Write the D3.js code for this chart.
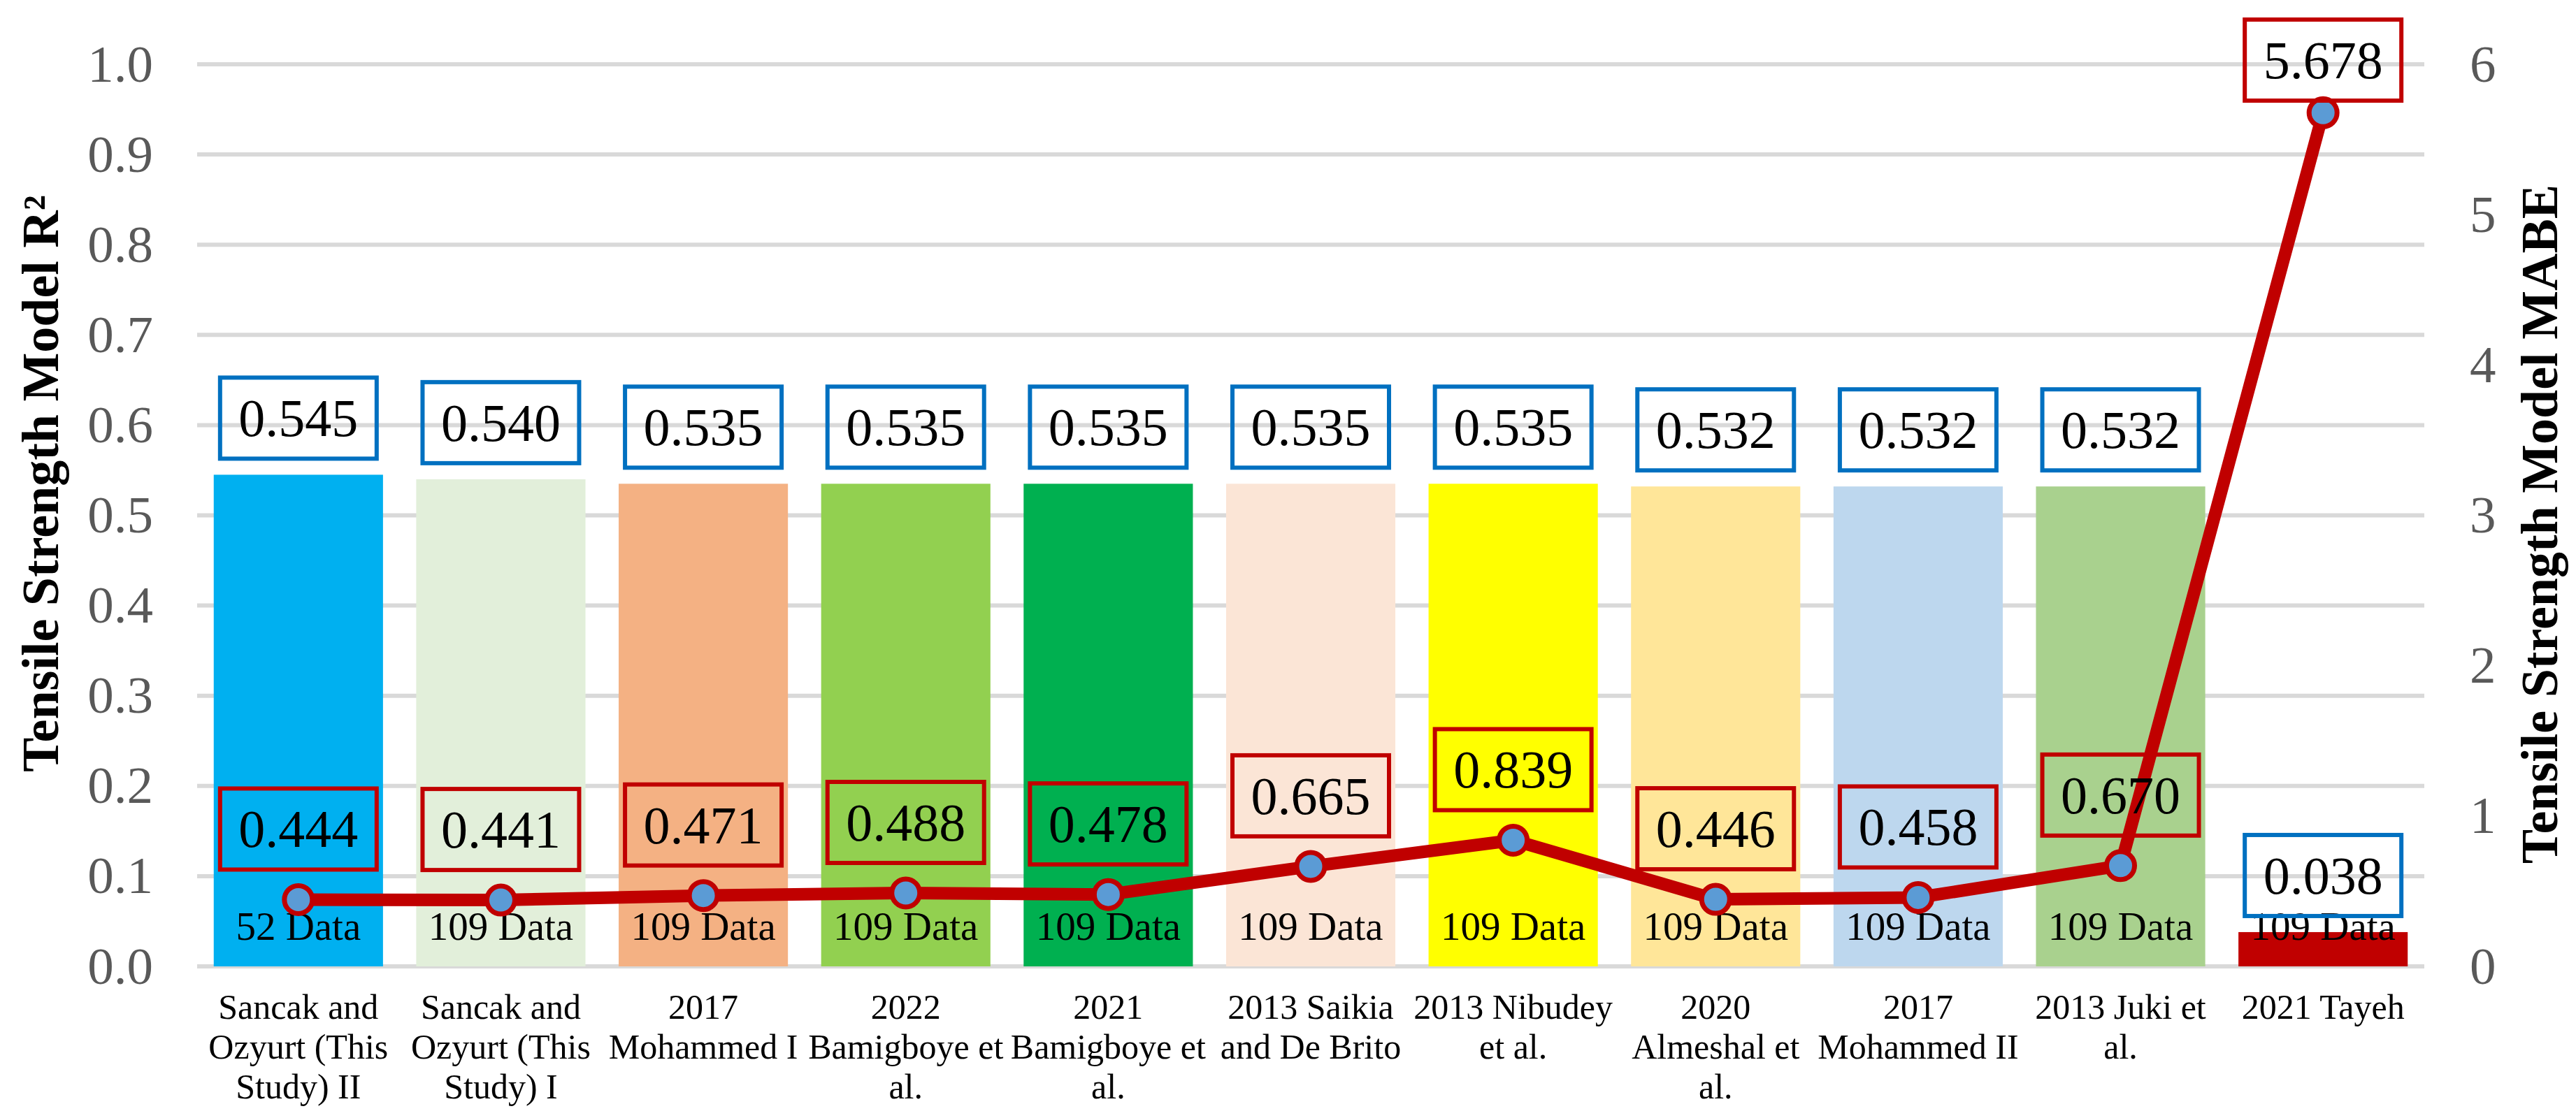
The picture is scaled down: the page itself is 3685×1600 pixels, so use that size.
<!DOCTYPE html>
<html>
<head>
<meta charset="utf-8">
<script src="https://cdn.jsdelivr.net/npm/d3@7/dist/d3.min.js"></script>
<style>
  body { margin: 0; background: #fff; }
  svg { display: block; }
  text { font-family: "Times New Roman", "Liberation Serif", serif; }
</style>
</head>
<body>
<script>
// category labels (line breaks as in the original figure)
var categories = [
  "Sancak and\nOzyurt (This\nStudy) II",
  "Sancak and\nOzyurt (This\nStudy) I",
  "2017\nMohammed I",
  "2022\nBamigboye et\nal.",
  "2021\nBamigboye et\nal.",
  "2013 Saikia\nand De Brito",
  "2013 Nibudey\net al.",
  "2020\nAlmeshal et\nal.",
  "2017\nMohammed II",
  "2013 Juki et\nal.",
  "2021 Tayeh"
];
var r2Values = [0.545, 0.540, 0.535, 0.535, 0.535, 0.535, 0.535, 0.532, 0.532, 0.532, 0.038];
var mabeValues = [0.444, 0.441, 0.471, 0.488, 0.478, 0.665, 0.839, 0.446, 0.458, 0.670, 5.678];
var dataCounts = [52, 109, 109, 109, 109, 109, 109, 109, 109, 109, 109];
var barColors = ["#00b0f0", "#e2efda", "#f4b183", "#92d050", "#00b050", "#fbe5d6",
                 "#ffff00", "#ffe699", "#bdd7ee", "#a9d18e", "#c00000"];
var leftTicks = [0, 0.1, 0.2, 0.3, 0.4, 0.5, 0.6, 0.7, 0.8, 0.9, 1.0];
var rightTicks = [0, 1, 2, 3, 4, 5, 6];

var width = 3685, height = 1600;
var plotLeft = 282, plotRight = 3468, plotTop = 92, plotBottom = 1383;
var boxW = 224, boxH = 116;

var svg = d3.select("body").append("svg")
    .attr("width", width)
    .attr("height", height);

var x = d3.scaleBand()
    .domain(d3.range(categories.length))
    .range([plotLeft, plotRight])
    .paddingInner(0.164)
    .paddingOuter(0.082);

var yL = d3.scaleLinear().domain([0, 1]).range([plotBottom, plotTop]);
var yR = d3.scaleLinear().domain([0, 6]).range([plotBottom, plotTop]);

function cx(i) { return x(i) + x.bandwidth() / 2; }

// gridlines
svg.append("g").selectAll("line")
    .data(leftTicks)
    .enter().append("line")
    .attr("x1", plotLeft).attr("x2", plotRight)
    .attr("y1", function(d) { return yL(d); })
    .attr("y2", function(d) { return yL(d); })
    .attr("stroke", "#d9d9d9")
    .attr("stroke-width", 6);

// bars
svg.append("g").selectAll("rect")
    .data(r2Values)
    .enter().append("rect")
    .attr("x", function(d, i) { return x(i); })
    .attr("width", x.bandwidth())
    .attr("y", function(d) { return yL(d); })
    .attr("height", function(d) { return plotBottom - yL(d); })
    .attr("fill", function(d, i) { return barColors[i]; });

// "N Data" labels
svg.append("g").selectAll("text")
    .data(dataCounts)
    .enter().append("text")
    .attr("x", function(d, i) { return cx(i); })
    .attr("y", 1345)
    .attr("text-anchor", "middle")
    .attr("font-size", 57)
    .attr("fill", "#000")
    .text(function(d) { return d + " Data"; });

// MABE line
var line = d3.line()
    .x(function(d, i) { return cx(i); })
    .y(function(d) { return yR(d); });

svg.append("path")
    .datum(mabeValues)
    .attr("d", line)
    .attr("fill", "none")
    .attr("stroke", "#c00000")
    .attr("stroke-width", 18)
    .attr("stroke-linejoin", "round");

svg.append("g").selectAll("circle")
    .data(mabeValues)
    .enter().append("circle")
    .attr("cx", function(d, i) { return cx(i); })
    .attr("cy", function(d) { return yR(d); })
    .attr("r", 20)
    .attr("fill", "#5b9bd5")
    .attr("stroke", "#c00000")
    .attr("stroke-width", 7);

// R2 labels (blue boxes)
var r2Lab = svg.append("g").selectAll("g")
    .data(r2Values)
    .enter().append("g")
    .attr("transform", function(d, i) {
        return "translate(" + cx(i) + "," + (yL(d) - 81) + ")";
    });
r2Lab.append("rect")
    .attr("x", -boxW / 2).attr("y", -boxH / 2)
    .attr("width", boxW).attr("height", boxH)
    .attr("fill", "none")
    .attr("stroke", "#0070c0")
    .attr("stroke-width", 6);
r2Lab.append("text")
    .attr("text-anchor", "middle")
    .attr("dy", "0.34em")
    .attr("font-size", 76)
    .text(function(d) { return d3.format(".3f")(d); });

// MABE labels (red boxes)
var mabeLab = svg.append("g").selectAll("g")
    .data(mabeValues)
    .enter().append("g")
    .attr("transform", function(d, i) {
        var cy = Math.max(yR(d) - 101, 28 + boxH / 2);
        return "translate(" + cx(i) + "," + cy + ")";
    });
mabeLab.append("rect")
    .attr("x", -boxW / 2).attr("y", -boxH / 2)
    .attr("width", boxW).attr("height", boxH)
    .attr("fill", "none")
    .attr("stroke", "#c00000")
    .attr("stroke-width", 6);
mabeLab.append("text")
    .attr("text-anchor", "middle")
    .attr("dy", "0.34em")
    .attr("font-size", 76)
    .text(function(d) { return d3.format(".3f")(d); });

// axes
var axL = svg.append("g")
    .attr("transform", "translate(" + plotLeft + ",0)")
    .call(d3.axisLeft(yL).tickValues(leftTicks).tickFormat(d3.format(".1f")).tickSize(0).tickPadding(63));
var axR = svg.append("g")
    .attr("transform", "translate(" + plotRight + ",0)")
    .call(d3.axisRight(yR).tickValues(rightTicks).tickFormat(d3.format("d")).tickSize(0).tickPadding(65));
[axL, axR].forEach(function(ax) {
    ax.select(".domain").remove();
    ax.selectAll("text")
        .attr("font-size", 75)
        .attr("fill", "#595959")
        .style("font-family", '"Times New Roman", "Liberation Serif", serif');
});

// category labels
var catLab = svg.append("g").selectAll("text")
    .data(categories)
    .enter().append("text")
    .attr("text-anchor", "middle")
    .attr("font-size", 50)
    .attr("fill", "#000");
catLab.each(function(d, i) {
    var t = d3.select(this);
    d.split("\n").forEach(function(s, k) {
        t.append("tspan")
            .attr("x", cx(i))
            .attr("y", 1458 + k * 57)
            .text(s);
    });
});

// axis titles
svg.append("text")
    .attr("transform", "translate(83,692) rotate(-90)")
    .attr("text-anchor", "middle")
    .attr("font-size", 74)
    .attr("font-weight", "bold")
    .text("Tensile Strength Model R²");

svg.append("text")
    .attr("transform", "translate(3658,750) rotate(-90)")
    .attr("text-anchor", "middle")
    .attr("font-size", 74)
    .attr("font-weight", "bold")
    .text("Tensile Strength Model MABE");
</script>
</body>
</html>
